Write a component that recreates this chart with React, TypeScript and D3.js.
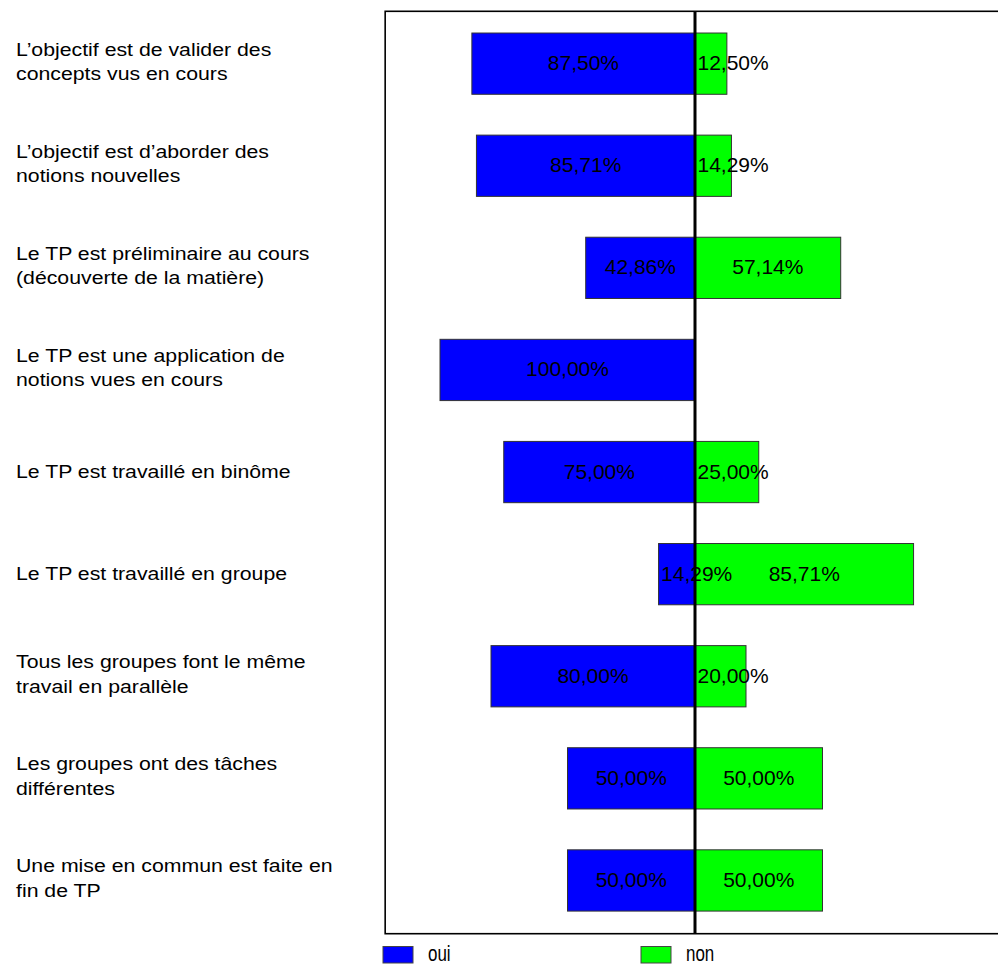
import React from "react";
import * as d3 from "d3";

const categories: string[][] = [
  ["L\u2019objectif est de valider des", "concepts vus en cours"],
  ["L\u2019objectif est d\u2019aborder des", "notions nouvelles"],
  ["Le TP est préliminaire au cours", "(découverte de la matière)"],
  ["Le TP est une application de", "notions vues en cours"],
  ["Le TP est travaillé en binôme"],
  ["Le TP est travaillé en groupe"],
  ["Tous les groupes font le même", "travail en parallèle"],
  ["Les groupes ont des tâches", "différentes"],
  ["Une mise en commun est faite en", "fin de TP"],
];
const ouiValues = [87.5, 85.71, 42.86, 100, 75, 14.29, 80, 50, 50];
const nonValues = [12.5, 14.29, 57.14, 0, 25, 85.71, 20, 50, 50];
const seriesNames = ["oui", "non"];

const W = 998;
const H = 966;
const FONT = "'Liberation Sans', Arial, sans-serif";
const BLUE = "#0000FF";
const GREEN = "#00FF00";

let ctx: CanvasRenderingContext2D | null = null;
function textWidth(s: string, size: number) {
  if (typeof document !== "undefined") {
    if (!ctx) ctx = document.createElement("canvas").getContext("2d");
    if (ctx) {
      ctx.font = `${size}px 'Liberation Sans', Arial, sans-serif`;
      return ctx.measureText(s).width;
    }
  }
  return s.length * size * 0.55;
}

const fmt = (v: number) => v.toFixed(2).replace(".", ",") + "%";

export default function App() {
  const x = d3.scaleLinear().domain([-100, 100]).range([440, 950]);
  const y = d3
    .scaleBand<number>()
    .domain(d3.range(categories.length))
    .range([12.6, 931.5])
    .paddingInner(0.4)
    .paddingOuter(0.2);

  const frameTop = 11.3;
  const frameBottom = 933.7;
  const frameLeft = x(-121.5);
  const frameRight = x(123);
  const fs = 21;
  const labelFs = 18.5;
  const labelStretch = 1.15;

  const valueLabel = (v: number, x0: number, x1: number, cy: number, key: string) => {
    if (v <= 0) return null;
    const txt = fmt(v);
    const tw = textWidth(txt, fs);
    const left = Math.min(x0, x1);
    const right = Math.max(x0, x1);
    const bw = right - left;
    let tx: number;
    if (tw + 4 < bw) tx = (left + right) / 2 - tw / 2;
    else tx = left + 2.5;
    return (
      <text key={key} x={tx} y={cy + 6.5} fontSize={fs} fontFamily={FONT} fill="#000">
        {txt}
      </text>
    );
  };

  return (
    <svg
      width={W}
      height={H}
      style={{ position: "absolute", left: 0, top: 0, display: "block", background: "#fff" }}
    >
      <rect x={0} y={0} width={W} height={H} fill="#fff" />
      {/* frame */}
      <rect
        x={frameLeft}
        y={frameTop}
        width={frameRight - frameLeft}
        height={frameBottom - frameTop}
        fill="none"
        stroke="#000"
        strokeWidth={1.6}
      />
      {/* category labels */}
      {categories.map((lines, i) => {
        const cy = (y(i) as number) + y.bandwidth() / 2;
        const lh = 24.5;
        const first = lines.length === 1 ? cy + 6 : cy - 8;
        return (
          <g key={"c" + i} transform={`translate(16,0) scale(${labelStretch},1)`}>
            <text x={0} fontSize={labelFs} fontFamily={FONT} fill="#000">
              {lines.map((l, j) => (
                <tspan key={j} x={0} y={first + j * lh}>
                  {l}
                </tspan>
              ))}
            </text>
          </g>
        );
      })}
      {/* bars */}
      {ouiValues.map((v, i) => {
        const y0 = y(i) as number;
        return (
          <rect
            key={"o" + i}
            x={x(-v)}
            y={y0}
            width={x(0) - x(-v)}
            height={y.bandwidth()}
            fill={BLUE}
            stroke="#333"
            strokeWidth={1}
          />
        );
      })}
      {nonValues.map((v, i) => {
        if (v <= 0) return null;
        const y0 = y(i) as number;
        return (
          <rect
            key={"n" + i}
            x={x(0)}
            y={y0}
            width={x(v) - x(0)}
            height={y.bandwidth()}
            fill={GREEN}
            stroke="#333"
            strokeWidth={1}
          />
        );
      })}
      {/* value labels */}
      {ouiValues.map((v, i) =>
        valueLabel(v, x(-v), x(0), (y(i) as number) + y.bandwidth() / 2, "ol" + i)
      )}
      {nonValues.map((v, i) =>
        valueLabel(v, x(0), x(v), (y(i) as number) + y.bandwidth() / 2, "nl" + i)
      )}
      {/* center line */}
      <line x1={x(0)} x2={x(0)} y1={frameTop} y2={frameBottom} stroke="#000" strokeWidth={3} />
      {/* legend */}
      {seriesNames.map((name, i) => {
        const lx = i === 0 ? 383 : 641;
        return (
          <g key={"lg" + i}>
            <rect x={lx} y={946.5} width={30} height={16.5} fill={i === 0 ? BLUE : GREEN} stroke="#444" strokeWidth={1} />
            <g transform={`translate(${lx + 45},0) scale(0.77,1)`}>
              <text x={0} y={961} fontSize={22} fontFamily={FONT} fill="#000">
                {name}
              </text>
            </g>
          </g>
        );
      })}
    </svg>
  );
}
